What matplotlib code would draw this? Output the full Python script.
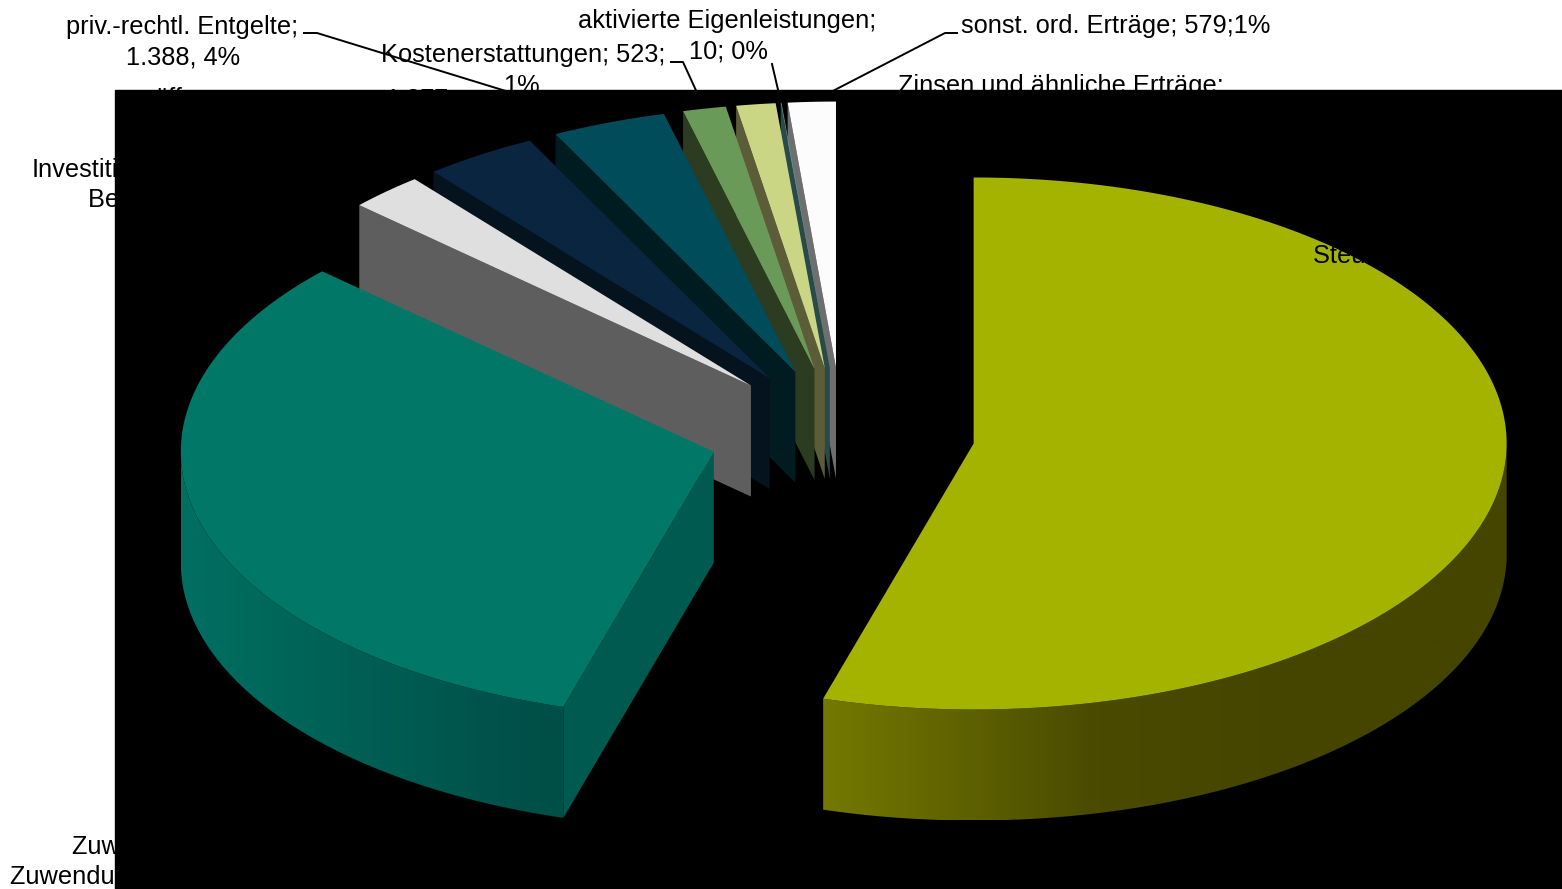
"""Exploded 3D pie of the income positions, drawn by hand on a pixel-scaled axes."""

import matplotlib

matplotlib.use("Agg")
import matplotlib.pyplot as plt  # noqa: E402
import numpy as np  # noqa: E402
from matplotlib.patches import Polygon, Rectangle  # noqa: E402

# income positions, clockwise from 12 o'clock (values partly hidden in the source)
names = [
    "Steuern",
    "Zuwendungen",
    "Investitionszuwendungen, Beiträge",
    "öff.-rechtl. Entgelte",
    "priv.-rechtl. Entgelte",
    "Kostenerstattungen",
    "Zinsen und ähnliche Erträge",
    "aktivierte Eigenleistungen",
    "sonst. ord. Erträge",
]
values = [21860, 12945, 910, 1377, 1388, 523, 477, 10, 579]

top_colors = ["#a3b300", "#007767", "#dfdfdf", "#0a2540", "#004c5a",
              "#6a9a58", "#cbd685", "#5f9a9a", "#fcfcfc"]
face_colors = [None, "#005a4f", "#5e5e5e", "#04131e", "#001c20",
               "#2c3c20", "#5c5c38", "#2a4a4a", "#6f6f6f"]

# wall shading, left to right along the outer rim
wall_stops = {
    0: ([823, 1100, 1300, 1507], ["#747900", "#4a4a00", "#454500", "#454500"]),
    1: ([181, 350, 500, 564], ["#006f62", "#006055", "#00524a", "#004f47"]),
}

# pie geometry in pixels
WIDTH, HEIGHT = 1562, 889
CX, CY = 842, 434
RX, RY = 533, 266
EXPLODE = 133
DEPTH = 111


def rim(cx, cy, t):
    """Point(s) on the ellipse, t in degrees clockwise from the top."""
    t = np.radians(t)
    return cx + RX * np.sin(t), cy - RY * np.cos(t)


fig = plt.figure(figsize=(WIDTH / 100, HEIGHT / 100), dpi=100)
ax = fig.add_axes([0, 0, 1, 1])
ax.add_patch(Rectangle((115, 90), WIDTH - 115, HEIGHT - 90, color="black", zorder=0))

edges = np.concatenate([[0], np.cumsum(values)]) / sum(values) * 360
mids = (edges[:-1] + edges[1:]) / 2
apex_x = CX + EXPLODE * np.sin(np.radians(mids))
apex_y = CY - EXPLODE / 2 * np.cos(np.radians(mids))

# back to front: the thin slices first, the big ones last
for i in range(len(values) - 1, -1, -1):
    t0, t1 = edges[i], edges[i + 1]
    ax_, ay_ = apex_x[i], apex_y[i]
    z = 2 + (9 - i)

    if face_colors[i]:
        sx, sy = rim(ax_, ay_, t0)
        ax.fill([ax_, sx, sx, ax_], [ay_, sy, sy + DEPTH, ay_ + DEPTH],
                color=face_colors[i], lw=0, zorder=z)

    if i in wall_stops:
        xs, cols = wall_stops[i]
        rgb = np.array([matplotlib.colors.to_rgb(c) for c in cols])
        ts = np.linspace(max(t0, 90), min(t1, 270), 300)
        wx, wy = rim(ax_, ay_, ts)
        poly = Polygon(np.c_[np.r_[wx, wx[::-1]], np.r_[wy, wy[::-1] + DEPTH]],
                       transform=ax.transData)
        grid = np.arange(wx.min(), wx.max() + 1)
        strip = np.stack([np.interp(grid, xs, rgb[:, k]) for k in range(3)], axis=-1)
        im = ax.imshow(strip[np.newaxis, :, :], aspect="auto", zorder=z,
                       extent=(grid[0], grid[-1], wy.max() + DEPTH, wy.min()))
        im.set_clip_path(poly)

    ts = np.linspace(t0, t1, max(int((t1 - t0) * 2), 2))
    px, py = rim(ax_, ay_, ts)
    ax.fill(np.r_[ax_, px], np.r_[ay_, py], color=top_colors[i], lw=0, zorder=z + 0.5)

# labels sit on top; black text simply vanishes on the black plot area
FONT = dict(family="Liberation Sans", fontsize=18.3, color="black", va="baseline", zorder=20)
ax.text(298, 34, "priv.-rechtl. Entgelte;", ha="right", **FONT)
ax.text(183, 64, "1.388, 4%", ha="center", **FONT)
ax.text(665, 62, "Kostenerstattungen; 523;", ha="right", **FONT)
ax.text(521, 93, "1%", ha="center", **FONT)
ax.text(727, 28, "aktivierte Eigenleistungen;", ha="center", **FONT)
ax.text(728, 59, "10; 0%", ha="center", **FONT)
ax.text(961, 33, "sonst. ord. Erträge; 579;1%", ha="left", **FONT)
ax.text(898, 93, "Zinsen und ähnliche Erträge;", ha="left", **FONT)
ax.text(155, 106, "öff.", ha="left", **FONT)
ax.text(385, 106, "1.377;", ha="left", **FONT)
ax.text(32, 177, "Investitionszuwendungen,", ha="left", **FONT)
ax.text(88, 207, "Beiträge; 910; 2%", ha="left", **FONT)
ax.text(1313, 262, "Steuern; 21.860; 55%", ha="left", **FONT)
ax.text(72, 854, "Zuwendungen und", ha="left", **FONT)
ax.text(10, 884, "Zuwendungen; 12.945; 32%", ha="left", **FONT)

# leader lines run from the label stub to the rim of their slice
leaders = [(4, [(304, 33), (317, 33)]), (5, [(671, 62), (683, 62)]),
           (7, [(772, 64)]), (8, [(957, 33), (945, 33)])]
for i, stub in leaders:
    ex, ey = rim(apex_x[i], apex_y[i], mids[i])
    pts = stub + [(ex, ey)]
    ax.plot([p[0] for p in pts], [p[1] for p in pts], color="black", lw=1.4, zorder=1)

ax.set_xlim(0, WIDTH)
ax.set_ylim(HEIGHT, 0)
ax.axis("off")

fig.savefig("out.png", dpi=100)
plt.close(fig)
